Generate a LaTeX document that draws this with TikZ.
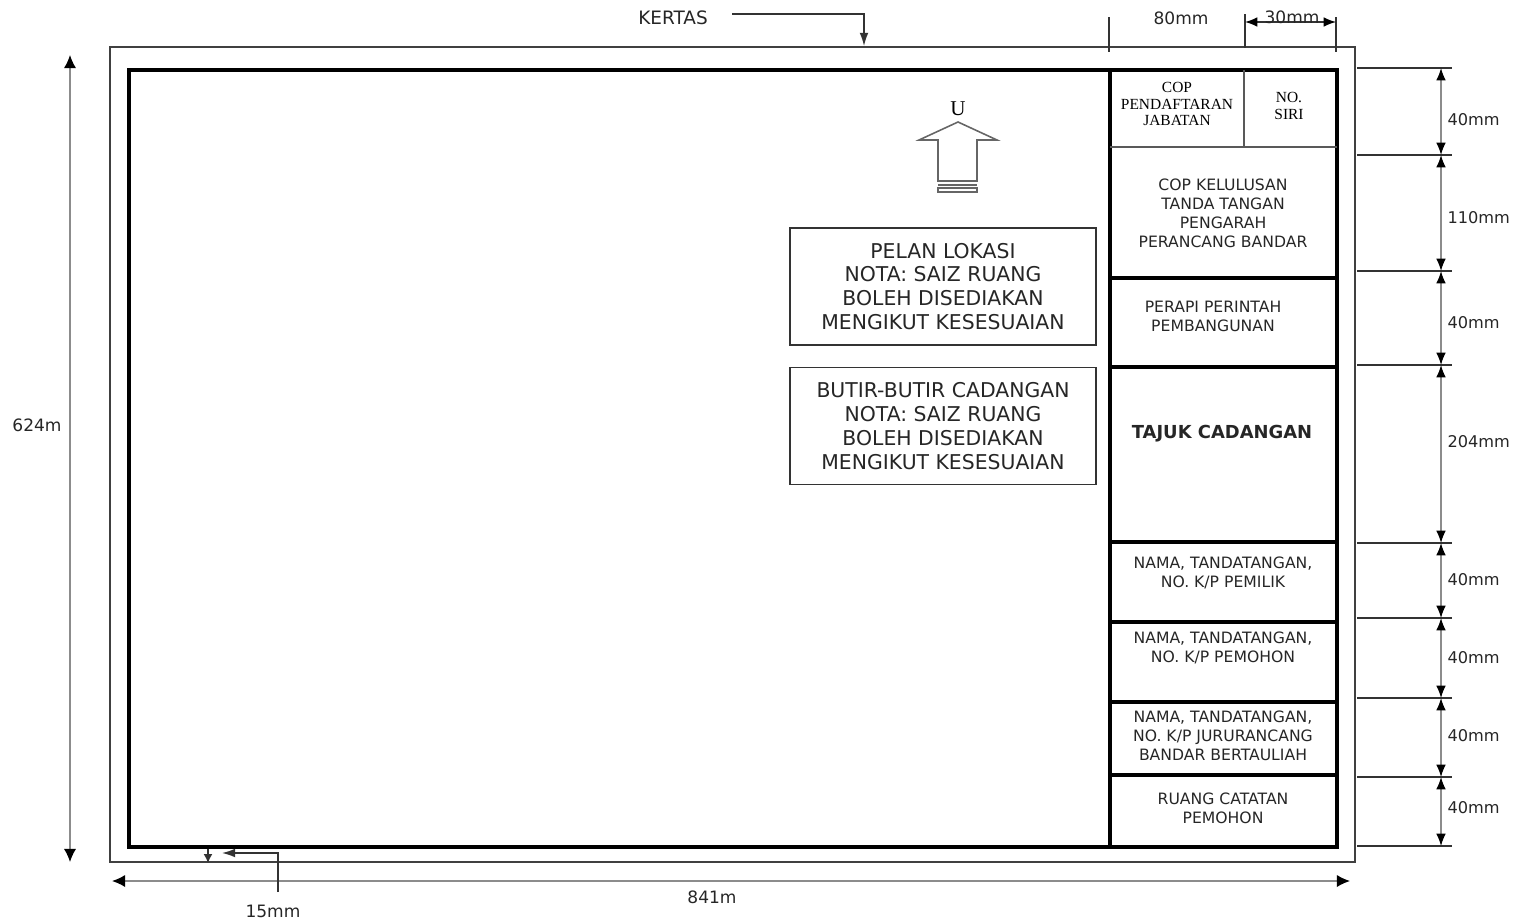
\documentclass[tikz,border=0pt]{standalone}
\usepackage{fontspec}
\newfontfamily\vsans{DejaVu Sans}
\newfontfamily\tserif{Liberation Serif}
\usetikzlibrary{arrows.meta,positioning}

\begin{document}
\begin{tikzpicture}[x=0.02cm,y=-0.02cm,
  >={Latex[length=7.5pt,width=5pt]},
  paper/.style={draw=black!75,line width=0.8pt},
  frame/.style={draw=black,line width=2.8pt},
  thin rule/.style={draw=black!65,line width=0.8pt},
  ext/.style={draw=black!80,line width=0.7pt},
  dim/.style={{Latex[length=7pt,width=5.5pt,color=black]}-{Latex[length=7pt,width=5.5pt,color=black]},draw=black!45,line width=0.8pt},
  long dim/.style={dim,{Latex[length=7.5pt,width=7pt,color=black]}-{Latex[length=7.5pt,width=7pt,color=black]}},
  lead/.style={->,draw=black!80,line width=0.8pt},
  cell/.style={font=\vsans\fontsize{8.9}{10.8}\selectfont,align=center,text=black!85},
  stamp/.style={font=\tserif\fontsize{8.8}{9.6}\selectfont,align=center},
  note box/.style={draw=black!80,line width=0.8pt,minimum width=6.12cm,minimum height=2.34cm,
    align=center,font=\vsans\fontsize{11.6}{13.6}\selectfont,text=black!85},
  dim label/.style={font=\vsans\fontsize{9.7}{11}\selectfont,text=black!85}]

  \useasboundingbox (0,0) rectangle (1514,923);

  % kertas dan bingkai
  \draw[paper] (110,47) rectangle (1355,862);
  \draw[frame] (129,70) rectangle (1337,847);
  \draw[frame,line width=2.3pt] (1110,70) -- (1110,847);

  % petak tajuk
  \draw[thin rule] (1110,147) -- (1337,147);
  \draw[thin rule] (1244,70) -- (1244,147);
  \foreach \y in {278,367,542,622,702,775}
    \draw[frame] (1110,\y) -- (1337,\y);

  \node[stamp] (cop) at (1177,104) {COP\\PENDAFTARAN\\JABATAN};
  \node[stamp] (siri) at (1289,106) {NO.\\SIRI};
  \node[cell] (lulus) at (1223,213) {COP KELULUSAN\\TANDA TANGAN\\PENGARAH\\PERANCANG BANDAR};
  \node[cell] (perapi) at (1213,316) {PERAPI PERINTAH\\PEMBANGUNAN};
  \node[cell,font=\vsans\bfseries\fontsize{10.2}{11}\selectfont] (tajuk) at (1222,434) {TAJUK CADANGAN};
  \node[cell] (pemilik) at (1223,573) {NAMA, TANDATANGAN,\\NO. K/P PEMILIK};
  \node[cell] (pemohon) at (1223,648) {NAMA, TANDATANGAN,\\NO. K/P PEMOHON};
  \node[cell] (jurur) at (1223,736) {NAMA, TANDATANGAN,\\NO. K/P JURURANCANG\\BANDAR BERTAULIAH};
  \node[cell] (catatan) at (1223,808) {RUANG CATATAN\\PEMOHON};

  % pelan dan butir
  \node[note box] (lokasi) at (943,286.5) {PELAN LOKASI\\NOTA: SAIZ RUANG\\BOLEH DISEDIAKAN\\MENGIKUT KESESUAIAN};
  \node[note box,below=0.42cm of lokasi] (butir) {BUTIR-BUTIR CADANGAN\\NOTA: SAIZ RUANG\\BOLEH DISEDIAKAN\\MENGIKUT KESESUAIAN};

  % arah utara
  \node[font=\tserif\fontsize{12}{13}\selectfont] (utara) at (958,109) {U};
  \draw[draw=black!60,line width=0.9pt] (958,122) -- (997,140) -- (977,140) -- (977,181)
    -- (938,181) -- (938,140) -- (919,140) -- cycle;
  \draw[black!60,line width=0.8pt] (938,185) -- (977,185) (938,188) rectangle (977,192);

  % KERTAS
  \node[dim label,font=\vsans\fontsize{10.5}{12}\selectfont] (kertas) at (673,18) {KERTAS};
  \coordinate (kstart) at (732,14);
  \coordinate (kend) at (864,46);
  \draw[lead] (kstart) -| (kend);

  % ukuran atas
  \node[dim label] (w80) at (1181,18) {80mm};
  \draw[ext] (1109,17) -- (1109,52);
  \draw[ext] (1245,14) -- (1245,48);
  \draw[ext] (1336,17) -- (1336,52);
  \coordinate (w30a) at (1245,22);
  \coordinate (w30b) at (1336,22);
  \draw[dim,draw=black!80] (w30a) -- (w30b);
  \node[dim label] (w30) at (1292,17) {30mm};

  % ukuran kiri dan bawah
  \coordinate (h1) at (70,55);
  \coordinate (h2) at (70,862);
  \draw[long dim] (h1) -- (h2);
  \node[dim label] (h624) at (37,425) {624m};

  \coordinate (b1) at (112,881);
  \coordinate (b2) at (1350,881);
  \draw[long dim] (b1) -- (b2);
  \node[dim label] (w841) at (712,897) {841m};

  % 15mm
  \node[dim label] (m15) at (273,911) {15mm};
  \coordinate (m15a) at (278,892);
  \coordinate (m15b) at (222,853);
  \draw[lead] (m15a) |- (m15b);
  \coordinate (s1) at (208,849);
  \coordinate (s2) at (208,863);
  \draw[lead,>={Latex[length=5pt,width=5pt]}] (s1) -- (s2);

  % ukuran kanan
  \foreach \y [count=\i] in {68,155,271,365,543,618,698,777,846} {
    \draw[ext] (1357,\y) -- (1452,\y);
    \coordinate (r\i) at (1441,\y);
  }
  \foreach \i/\j/\t/\ly in {1/2/40mm/120,2/3/110mm/218,3/4/40mm/323,4/5/204mm/442,
      5/6/40mm/580,6/7/40mm/658,7/8/40mm/736,8/9/40mm/808}
    \draw[dim] (r\i) -- (r\j) node[dim label,font=\vsans\fontsize{9.2}{11}\selectfont,right] at (1441,\ly) {\t};

\end{tikzpicture}
\end{document}
